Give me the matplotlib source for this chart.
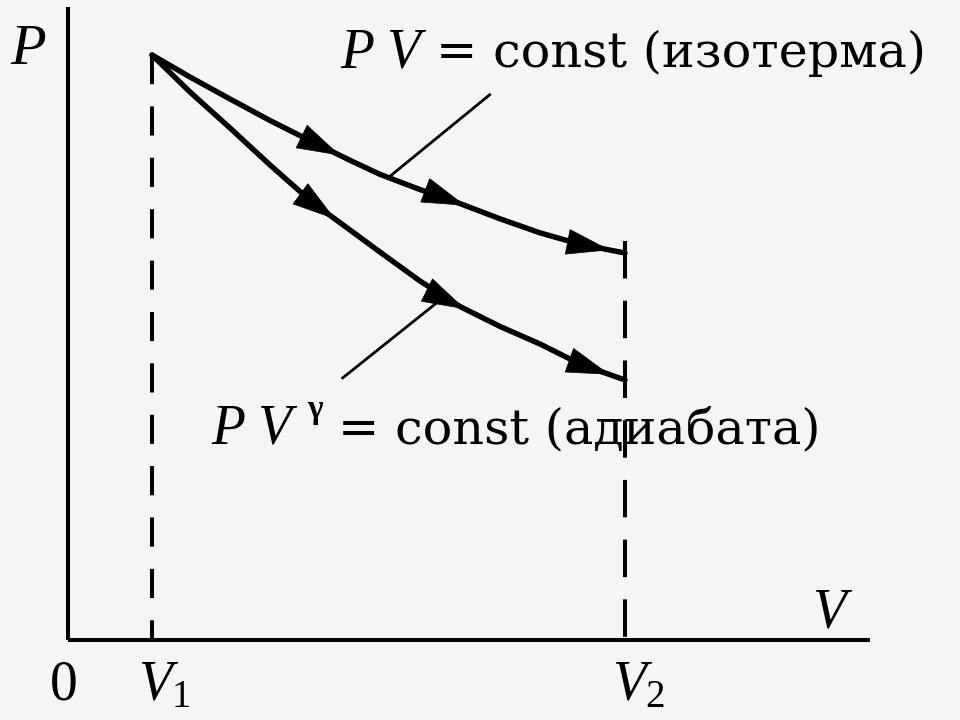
import numpy as np
import matplotlib
matplotlib.use("Agg")
import matplotlib.pyplot as plt
from matplotlib.patches import ArrowStyle

plt.rcParams['font.family'] = ['Liberation Serif', 'DejaVu Serif']
plt.rcParams['mathtext.fontset'] = 'custom'
plt.rcParams['mathtext.rm'] = 'Liberation Serif'
plt.rcParams['mathtext.it'] = 'Liberation Serif:italic'
plt.rcParams['lines.scale_dashes'] = False

# ---- data (arbitrary units) ----
V1 = 1.0
V2 = 6.63
P1 = 10.0
P2_top = 6.82   # top of dashed line at V2

V_curve = [1.0, 1.452, 1.929, 2.405, 2.917, 3.357, 3.714, 4.190, 4.667, 5.143, 5.619, 6.095, 6.631]
P_isotherm = [10.0, 9.624, 9.248, 8.880, 8.510, 8.200, 7.960, 7.700, 7.460, 7.200, 6.960, 6.765, 6.615]
P_adiabat = [10.0, 9.368, 8.752, 8.120, 7.470, 7.009, 6.632, 6.137, 5.700, 5.360, 5.060, 4.718, 4.444]

arrow_V_iso = [3.24, 4.73, 6.45]
arrow_V_adi = [3.18, 4.73, 6.45]

leader_iso_V = [3.81, 5.02]
leader_iso_P = [7.90, 9.32]
leader_adi_V = [3.27, 4.43]
leader_adi_P = [4.48, 5.81]

label_PV = r"$P\hspace{0.3}V$"
label_iso_rest = "= const (изотерма)"
label_adi_rest = "= const (адиабата)"
gamma = "γ"
axis_labels = ["P", "V"]
xtick_labels = ["0", "$V_1$", "$V_2$"]

# ---- figure ----
W, H = 960, 720
fig = plt.figure(figsize=(9.6, 7.2), dpi=100)
bg = '#f5f5f5'
fig.patch.set_facecolor(bg)
ax = fig.add_axes([68 / W, 80 / H, 802 / W, 633 / H])
ax.set_facecolor('none')
ax.set_xlim(0, 802 / 84)
ax.set_ylim(0, 633 / 58.5)
for s in ['top', 'right']:
    ax.spines[s].set_visible(False)
for s in ['left', 'bottom']:
    ax.spines[s].set_linewidth(2.9)
    ax.spines[s].set_color('black')
    ax.spines[s].set_capstyle('butt')
ax.set_xticks([])
ax.set_yticks([])

# dashed verticals
ax.plot([V1, V1], [P1, 0], color='black', lw=2.9, dashes=(21, 16), dash_capstyle='butt')
ax.plot([V2, V2], [P2_top, 0], color='black', lw=2.9, dashes=(27, 16), dash_capstyle='butt')

# curves
for P in (P_isotherm, P_adiabat):
    ax.plot(V_curve, P, color='black', lw=3.9, solid_capstyle='round', solid_joinstyle='round')

# arrowheads
style = ArrowStyle('-|>', head_length=1.5, head_width=0.45)
for Vs, P in ((arrow_V_iso, P_isotherm), (arrow_V_adi, P_adiabat)):
    for v in Vs:
        tip = (v, np.interp(v, V_curve, P))
        tail = (v - 0.05, np.interp(v - 0.05, V_curve, P))
        ax.annotate('', xy=tip, xytext=tail,
                    arrowprops=dict(arrowstyle=style, mutation_scale=20, color='black',
                                    lw=0.5, shrinkA=0, shrinkB=0))

# leader lines
ax.plot(leader_iso_V, leader_iso_P, color='black', lw=2.0)
ax.plot(leader_adi_V, leader_adi_P, color='black', lw=2.0)

def ftext(x, y, s, **kw):
    fig.text(x / W, 1 - y / H, s, **kw)

IT = dict(family='Liberation Serif', style='italic', va='baseline')
RM = dict(family='Liberation Serif', va='baseline')
WIDE = dict(family='DejaVu Serif', va='baseline')

# axis labels
ftext(10, 64, axis_labels[0], fontsize=42, ha='left', **IT)
ftext(812, 628, axis_labels[1], fontsize=40, ha='left', **IT)
ftext(50, 700, xtick_labels[0], fontsize=40, ha='left', **RM)
ftext(138, 700, xtick_labels[1], fontsize=40, ha='left', **RM)
ftext(612, 700, xtick_labels[2], fontsize=40, ha='left', **RM)

# curve labels
ftext(340, 67, label_PV, fontsize=40, ha='left', **RM)
ftext(436, 67, label_iso_rest, fontsize=35.5, ha='left', **WIDE)
ftext(211, 443, label_PV, fontsize=40, ha='left', **RM)
ftext(307, 418, gamma, fontsize=24, ha='left', weight='bold', **RM)
ftext(338, 443, label_adi_rest, fontsize=35.5, ha='left', **WIDE)

fig.savefig('out.png', dpi=100, facecolor=bg)
